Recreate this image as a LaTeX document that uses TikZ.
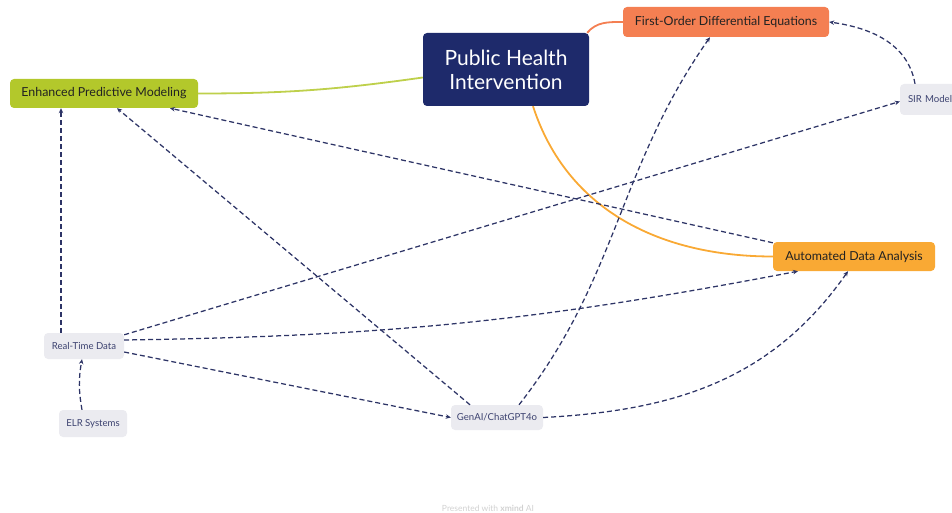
\documentclass[tikz,border=0pt]{standalone}
\usepackage{fontspec}
\setmainfont{Lato}
\usetikzlibrary{arrows.meta, positioning}
\definecolor{navy}{HTML}{1E2A6B}
\definecolor{coral}{HTML}{F47F52}
\definecolor{lime}{HTML}{B3C82B}
\definecolor{amber}{HTML}{F9A934}
\definecolor{leafbg}{HTML}{EBEBF0}
\definecolor{leaftxt}{HTML}{3C4270}
\definecolor{dashcol}{HTML}{2D3466}
\definecolor{ink}{HTML}{222222}

\begin{document}
\begin{tikzpicture}[
    x=1pt, y=1pt,
    every node/.style={inner sep=0pt},
    central/.style={rectangle, fill=navy, text=white, rounded corners=4pt,
                    minimum width=166, minimum height=73, align=center,
                    font=\fontsize{21}{24}\selectfont},
    topic/.style={rectangle, rounded corners=4pt, text=ink, minimum height=29,
                  font=\fontsize{12.4}{14}\selectfont},
    leaf/.style={rectangle, fill=leafbg, text=leaftxt, rounded corners=4pt,
                 minimum height=26, font=\fontsize{9.6}{11}\selectfont},
    branch/.style={line width=1.8pt},
    dep/.style={draw=dashcol, line width=1.25pt, dash pattern=on 5pt off 3pt,
                -{Stealth[length=5pt, width=4.5pt]}}
]
    \useasboundingbox (0,0) rectangle (952,-513);

    % main topic and the coloured branches
    \node[central] (phi) at (506,-69.5) {Public Health\\Intervention};
    \node[topic, fill=coral, minimum width=206, minimum height=30] (fode) at (726,-22) {First-Order Differential Equations};
    \node[topic, fill=lime, minimum width=188] (epm) at (104,-93.5) {Enhanced Predictive Modeling};
    \node[topic, fill=amber, minimum width=162] (ada) at (854,-256.5) {Automated Data Analysis};

    % floating leaves
    \node[leaf, minimum width=64, minimum height=31, text width=48] (sir) at (932,-99.5) {SIR Model};
    \node[leaf, minimum width=80] (rtd) at (84,-346) {Real-Time Data};
    \node[leaf, minimum width=68, minimum height=27] (elr) at (93,-423.5) {ELR Systems};
    \node[leaf, minimum width=92, minimum height=25] (gen) at (497,-417.5) {GenAI/ChatGPT4o};

    \draw[branch, draw=lime!85!white] ([yshift=-8]phi.west) to[out=188, in=0] (epm.east);
    \draw[branch, draw=coral] ([xshift=-2]phi.north east) to[out=50, in=180] (fode.west);
    \draw[branch, draw=amber] ([xshift=27]phi.south) to[out=-72, in=180] (ada.west);

    % relationships
    \draw[dep] ([xshift=-17]sir.north) to[out=100, in=-8] (fode.east);
    \draw[dep] ([xshift=-23]rtd.north) -- ([xshift=-43]epm.south);
    \draw[dep] ([xshift=-27]gen.north) -- ([xshift=13]epm.south);
    \draw[dep] ([yshift=-1]ada.north west) -- ([xshift=66]epm.south);
    \draw[dep] ([yshift=-2]rtd.north east) -- ([yshift=-2]sir.west);
    \draw[dep] ([yshift=6]rtd.east) to[bend right=5] ([xshift=-56]ada.south);
    \draw[dep] ([yshift=-6]rtd.east) -- (gen.west);
    \draw[dep] ([xshift=-11]elr.north) to[bend left=10] ([xshift=-2]rtd.south);
    \draw[dep] ([xshift=22]gen.north) to[out=52, in=-125] ([xshift=-16]fode.south);
    \draw[dep] (gen.east) to[out=3, in=-125] ([xshift=-6]ada.south);

    \node[text=black!18, font=\fontsize{8.5}{10}\selectfont] (credit) at (488,-508) {Presented with \textbf{xmind} AI};
\end{tikzpicture}
\end{document}
